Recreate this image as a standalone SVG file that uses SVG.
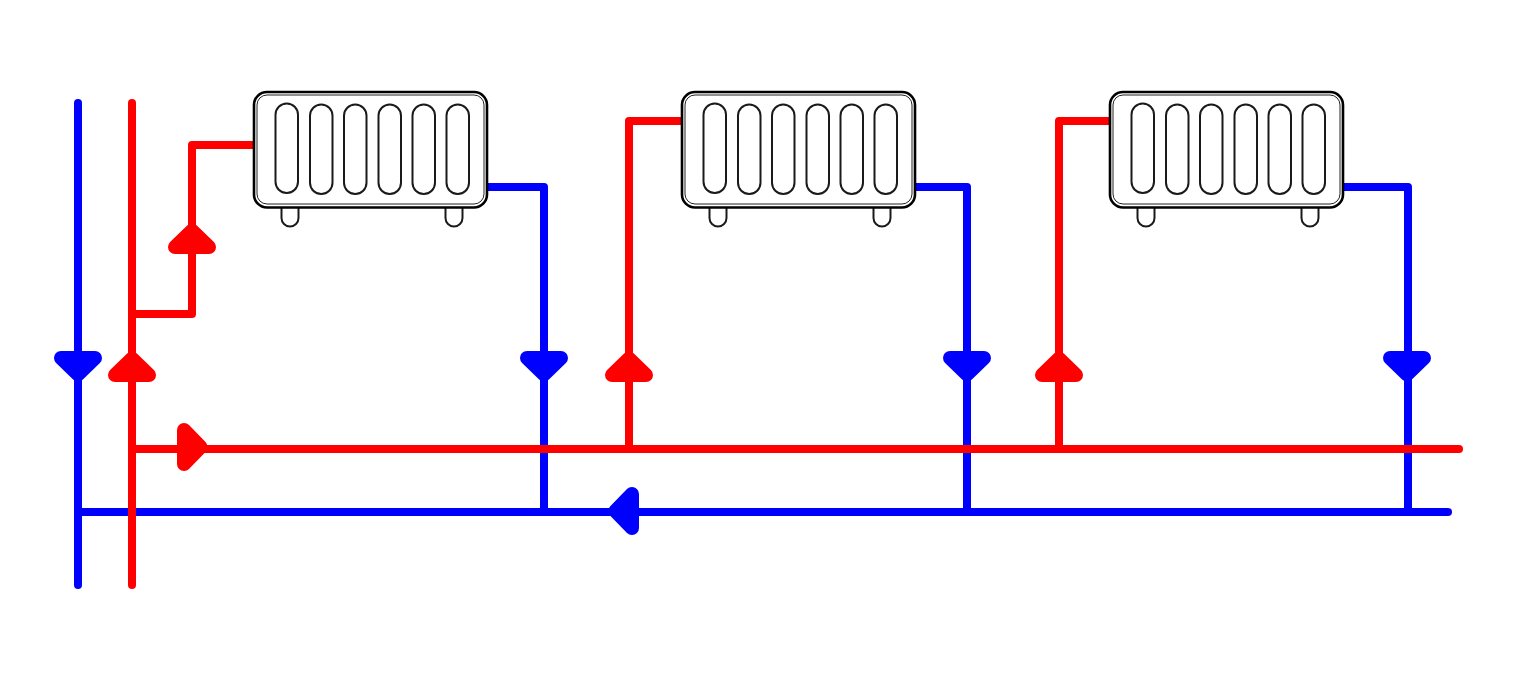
<svg xmlns="http://www.w3.org/2000/svg" xmlns:xlink="http://www.w3.org/1999/xlink" width="1520" height="674" viewBox="0 0 1520 674">
<style>
.pipe{fill:none;stroke-width:8;stroke-linecap:round;stroke-linejoin:round}
.blue{stroke:#0000ff}
.red{stroke:#ff0000}
.head{stroke-width:14;stroke-linejoin:round}
.hb{fill:#0000ff;stroke:#0000ff}
.hr{fill:#ff0000;stroke:#ff0000}
.outer{fill:#fff;stroke:#000;stroke-width:2.6}
.inner{fill:none;stroke:#222;stroke-width:1}
.fin,.leg{fill:#fff;stroke:#1a1a1a;stroke-width:2}
</style>
<defs>
<path id="up" class="head" d="M0,-23.500 L17,-7 L-17,-7 Z"/>
<g id="radiator">
<path class="leg" d="M281.500,208v10a8.500,8.500 0 0 0 17,0v-10"/>
<path class="leg" d="M445.500,208v10a8.500,8.500 0 0 0 17,0v-10"/>
<rect class="outer" x="254" y="92" width="233" height="115.500" rx="13"/>
<rect class="inner" x="257" y="95" width="227" height="109" rx="10"/>
<rect class="fin" x="275.500" y="103.500" width="22.500" height="89.500" rx="11.250" ry="11.250"/>
<rect class="fin" x="310" y="104.500" width="22.500" height="89.500" rx="11.250" ry="11.250"/>
<rect class="fin" x="344" y="104.500" width="22.500" height="89.500" rx="11.250" ry="11.250"/>
<rect class="fin" x="378.500" y="104.500" width="22.500" height="89.500" rx="11.250" ry="11.250"/>
<rect class="fin" x="412.500" y="104.500" width="22.500" height="89.500" rx="11.250" ry="11.250"/>
<rect class="fin" x="446.500" y="104.500" width="22.500" height="89.500" rx="11.250" ry="11.250"/>
</g>
</defs>
<rect width="1520" height="674" fill="#fff"/>
<g id="connectors">
<path class="pipe blue" d="M78,103V585"/>
<path class="pipe blue" d="M78,512H1448"/>
<path class="pipe blue" d="M488,187H544V512"/>
<path class="pipe blue" d="M916,187H967V512"/>
<path class="pipe blue" d="M1344,187H1408V512"/>
<use xlink:href="#up" href="#up" class="hb" transform="translate(78,351) rotate(180)"/>
<use xlink:href="#up" href="#up" class="hb" transform="translate(544,351) rotate(180)"/>
<use xlink:href="#up" href="#up" class="hb" transform="translate(967,351) rotate(180)"/>
<use xlink:href="#up" href="#up" class="hb" transform="translate(1407,351) rotate(180)"/>
<use xlink:href="#up" href="#up" class="hb" transform="translate(639,511) rotate(-90)"/>
<path class="pipe red" d="M132,103V585"/>
<path class="pipe red" d="M132,449H1459"/>
<path class="pipe red" d="M132,314H192V145H253"/>
<path class="pipe red" d="M629,449V121H681"/>
<path class="pipe red" d="M1059,449V121H1109"/>
<use xlink:href="#up" href="#up" class="hr" transform="translate(132,382)"/>
<use xlink:href="#up" href="#up" class="hr" transform="translate(192,254)"/>
<use xlink:href="#up" href="#up" class="hr" transform="translate(629,382)"/>
<use xlink:href="#up" href="#up" class="hr" transform="translate(1059,382)"/>
<use xlink:href="#up" href="#up" class="hr" transform="translate(177,447) rotate(90)"/>
</g>
<g id="radiator-1"><use xlink:href="#radiator" href="#radiator"/></g>
<g id="radiator-2"><use xlink:href="#radiator" href="#radiator" transform="translate(428,0)"/></g>
<g id="radiator-3"><use xlink:href="#radiator" href="#radiator" transform="translate(856,0)"/></g>
</svg>
